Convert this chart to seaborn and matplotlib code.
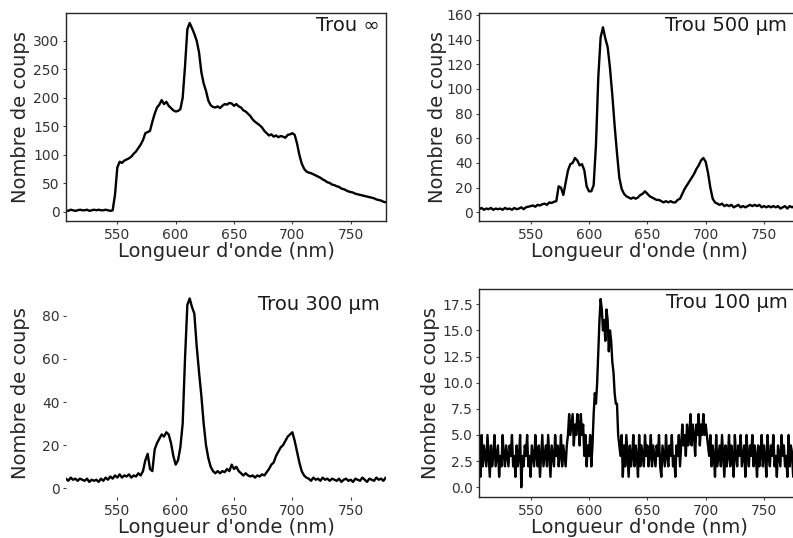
import numpy as np
import pandas as pd
import matplotlib.pyplot as plt
import seaborn as sns

# Spectres mesures avec differents trous (lus sur la figure)
# longueur d'onde en nm, pas de 2 nm pour les trois premiers spectres
longueur_onde = np.arange(506, 781, 2)

coups_inf = [3, 2, 4, 3, 2, 3, 4, 3, 3, 4, 2, 3, 4, 3, 4, 3, 3, 4, 3, 2, 3,
             30, 78, 88, 86, 90, 92, 94, 97, 102, 106, 112, 118, 126, 138, 140,
             142, 158, 172, 183, 188, 196, 189, 193, 186, 182, 178, 176, 177,
             180, 200, 255, 320, 331, 322, 312, 300, 280, 245, 225, 212, 195,
             187, 184, 183, 185, 182, 186, 189, 188, 191, 190, 186, 189, 185,
             183, 178, 176, 172, 168, 162, 158, 155, 152, 148, 142, 138, 134,
             136, 132, 134, 131, 133, 132, 130, 135, 136, 138, 135, 120, 100,
             85, 76, 71, 69, 68, 66, 64, 62, 60, 57, 55, 52, 51, 48, 47, 45,
             44, 41, 40, 38, 36, 35, 34, 32, 31, 30, 29, 28, 27, 26, 25, 24,
             22, 21, 20, 18, 17]

coups_500 = [2.5, 3.5, 2, 3, 2.5, 3.5, 2, 3, 2.5, 3, 2, 3.5, 2.5, 3, 2, 3.5,
             2.5, 3, 4, 2.5, 4, 4.5, 5, 5.5, 4.5, 6, 5.5, 6.5, 7, 6, 8, 7.5,
             8.5, 9, 21, 20, 14, 24, 34, 39, 40, 44, 42, 38, 39, 34, 21, 17,
             17, 22, 55, 110, 142, 150, 141, 134, 117, 95, 70, 48, 28, 19, 15,
             13, 12, 11, 12, 11, 12, 14, 15, 17, 15, 13, 12, 11, 10, 10, 9, 8,
             9, 8, 9, 8, 8, 10, 11, 15, 19, 22, 25, 28, 31, 35, 38, 42, 44, 41,
             32, 20, 11, 8, 7, 6, 7, 5, 6, 5, 6, 4, 5, 6, 4, 5, 4, 5, 6, 5, 6,
             5, 6, 4, 5, 4, 5, 4, 5, 4, 5, 3, 4, 5, 3, 5, 4, 5, 4, 5]

coups_300 = [4.5, 3.5, 5, 4, 4.5, 3.5, 4.5, 4, 3.5, 4.5, 3, 4, 3.5, 4, 3, 4.5,
             3.5, 5, 4, 5.5, 4.5, 6, 5, 6.5, 5, 6, 5.5, 6.5, 5, 6, 5.5, 7, 6,
             8, 13, 16, 9, 8, 18, 21, 23, 25, 24, 26, 25, 21, 15, 11, 13, 19,
             30, 60, 85, 88, 84, 81, 66, 54, 43, 30, 20, 14, 10, 8, 7, 8, 7, 8,
             7.5, 9, 8, 11, 9, 10, 8, 7, 6, 7, 6, 5.5, 6, 5, 6, 5.5, 6.5, 6,
             7.5, 9, 11, 12, 15, 17, 19, 20, 22, 24, 25, 26, 22, 17, 12, 8, 6,
             5, 4.5, 3.5, 5, 4, 4.5, 3.5, 5, 4, 4.5, 3.5, 4.5, 4, 3.5, 4.5, 3,
             4, 4.5, 3.5, 4, 3, 4.5, 4, 3.5, 5, 4, 3, 4.5, 4, 3.5, 5, 4, 4.5,
             3.5, 5]

# trou 100 um : pas de 1 nm
longueur_onde_100 = np.arange(506, 781, 1)
coups_100 = [3, 1, 5, 2, 4, 3, 2, 5, 3, 1, 4, 2, 3, 5, 2, 3, 4, 1, 3, 2, 5, 3, 2, 4, 3,
             2, 4, 3, 5, 2, 3, 1, 4, 2, 3, 5, 0, 3, 2, 4, 3, 5, 2, 3, 1, 4, 3, 2, 5, 3,
             2, 4, 1, 3, 5, 2, 3, 4, 2, 5, 3, 1, 4, 3, 2, 5, 3, 4, 2, 3, 5, 2, 4, 3, 2,
             4, 5, 7, 5, 6, 7, 4, 6, 5, 7, 6, 4, 7, 5, 6, 3, 5, 2, 4, 3, 5, 2, 4, 7, 9,
             8, 10, 13, 16, 18, 17, 15, 16, 14, 17, 16, 13, 15, 14, 12, 11, 9, 8, 8, 5, 4, 3, 5, 1, 4,
             2, 5, 3, 1, 4, 2, 3, 5, 2, 4, 3, 1, 5, 2, 4, 3, 2, 5, 3, 4, 2, 3, 5, 2, 4,
             3, 2, 4, 3, 5, 2, 1, 4, 3, 2, 5, 3, 2, 4, 3, 5, 2, 3, 1, 4, 3, 5, 2, 4, 6,
             4, 5, 3, 6, 4, 5, 7, 4, 6, 5, 3, 6, 5, 7, 4, 6, 5, 7, 5, 6, 5, 4, 3, 5, 2,
             4, 3, 1, 5, 2, 3, 4, 2, 5, 3, 1, 4, 2, 3, 5, 2, 4, 3, 1, 5, 3, 2, 4, 3, 5,
             2, 3, 4, 1, 5, 3, 2, 4, 3, 5, 2, 4, 3, 1, 4, 2, 3, 5, 2, 4, 3, 1, 5, 3, 2,
             4, 3, 5, 2, 3, 1, 4, 3, 2, 5, 3, 4, 2, 3, 1, 5, 2, 4, 3, 1, 5, 2, 4, 1, 3]

titres = ['Trou \u221e', 'Trou 500 \u00b5m', 'Trou 300 \u00b5m', 'Trou 100 \u00b5m']
yticks = [[0, 50, 100, 150, 200, 250, 300],
          [0, 20, 40, 60, 80, 100, 120, 140, 160],
          [0, 20, 40, 60, 80],
          [0, 2.5, 5, 7.5, 10, 12.5, 15, 17.5]]

sns.set_theme(style='ticks')
plt.rcParams['font.family'] = ['DejaVu Sans']

fig = plt.figure(figsize=(7.93, 5.38), dpi=100)

# positions des 4 panneaux (les panneaux de droite depassent un peu de la figure)
positions = [[0.0832, 0.5892, 0.4035, 0.3866],
             [0.6044, 0.5892, 0.4035, 0.3866],
             [0.0832, 0.0762, 0.4035, 0.3866],
             [0.6044, 0.0762, 0.4035, 0.3866]]
ylims = [(-15.8, 348.5), (-7.1, 161.6), (-4.0, 92.4), (-0.93, 18.96)]
label_x = [-0.1125, -0.10, -0.1125, -0.122]
titre_x = [0.981, 0.9616, 0.981, 0.9647]
titre_y = [0.9856, 0.9856, 0.969, 0.982]

donnees = [(longueur_onde, coups_inf), (longueur_onde, coups_500),
           (longueur_onde, coups_300), (longueur_onde_100, coups_100)]

for i, (x, y) in enumerate(donnees):
    ax = fig.add_axes(positions[i])
    df = pd.DataFrame({'nm': x, 'coups': y})
    sns.lineplot(x='nm', y='coups', data=df, ax=ax, color='black', lw=1.7)
    ax.set_xlim(506, 780.2)
    ax.set_ylim(*ylims[i])
    ax.set_xticks([550, 600, 650, 700, 750])
    ax.set_yticks(yticks[i])
    if i == 3:
        ax.set_yticklabels(['%.1f' % v for v in yticks[i]])
    ax.tick_params(labelsize=10, length=2.5, width=0.8, pad=2.2,
                   colors='0.25', labelcolor='0.2')
    ax.set_xlabel("Longueur d'onde (nm)", fontsize=14, color='0.15', labelpad=0)
    ax.set_ylabel('Nombre de coups', fontsize=14, color='0.15')
    ax.yaxis.set_label_coords(label_x[i], 0.5)
    for s in ax.spines.values():
        s.set_linewidth(1.0)
        s.set_color('0.15')
        s.set_visible(i != 2)
    ax.text(titre_x[i], titre_y[i], titres[i], transform=ax.transAxes,
            ha='right', va='top', fontsize=14, color='0.1')

plt.savefig('out.png', dpi=100)
